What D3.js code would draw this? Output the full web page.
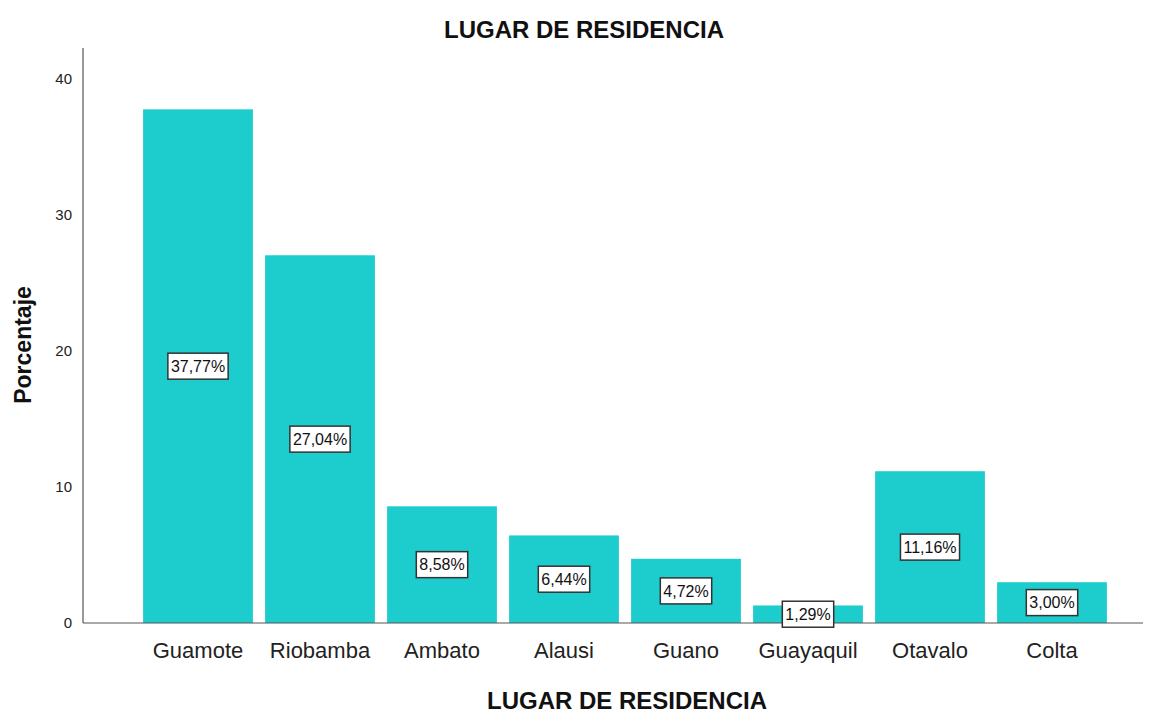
<!DOCTYPE html>
<html lang="en">
<head>
<meta charset="utf-8">
<title>Lugar de residencia</title>
<script src="https://d3js.org/d3.v7.min.js"></script>
<style>
  body { margin: 0; background: #fff; }
  text { font-family: "Liberation Sans", Arial, sans-serif; }
</style>
</head>
<body>
<script>
// data
var lugares = ["Guamote", "Riobamba", "Ambato", "Alausi", "Guano", "Guayaquil", "Otavalo", "Colta"];
var porcentajes = [37.77, 27.04, 8.58, 6.44, 4.72, 1.29, 11.16, 3.00];
var yTicks = [0, 10, 20, 30, 40];

var width = 1158, height = 715;
var svg = d3.select("body").append("svg")
    .attr("width", width)
    .attr("height", height);

var x = d3.scaleBand()
    .domain(lugares)
    .range([137, 1113])
    .paddingInner(0.1)
    .paddingOuter(0.05);

var y = d3.scaleLinear()
    .domain([0, 42.28])
    .range([623, 48]);

// bars
svg.selectAll(".bar")
    .data(lugares)
    .enter().append("rect")
    .attr("class", "bar")
    .attr("x", function(d) { return x(d); })
    .attr("y", function(d, i) { return y(porcentajes[i]); })
    .attr("width", x.bandwidth())
    .attr("height", function(d, i) { return y(0) - y(porcentajes[i]); })
    .attr("fill", "#1dcccc");

// axes
svg.append("line")
    .attr("x1", 83).attr("x2", 83)
    .attr("y1", 48).attr("y2", 623)
    .attr("stroke", "#555").attr("stroke-width", 1.2);
svg.append("line")
    .attr("x1", 83).attr("x2", 1143)
    .attr("y1", 623).attr("y2", 623)
    .attr("stroke", "#555").attr("stroke-width", 1.2);

svg.selectAll(".ytick")
    .data(yTicks)
    .enter().append("text")
    .attr("class", "ytick")
    .attr("x", 72)
    .attr("y", function(d) { return y(d); })
    .attr("dy", "0.35em")
    .attr("text-anchor", "end")
    .attr("font-size", 15)
    .attr("fill", "#222")
    .text(function(d) { return d; });

svg.selectAll(".xlab")
    .data(lugares)
    .enter().append("text")
    .attr("class", "xlab")
    .attr("x", function(d) { return x(d) + x.bandwidth() / 2; })
    .attr("y", 658)
    .attr("text-anchor", "middle")
    .attr("font-size", 22)
    .attr("fill", "#222")
    .text(function(d) { return d; });

// value labels in boxes
var fmt = function(v) { return v.toFixed(2).replace(".", ",") + "%"; };
var lab = svg.selectAll(".lab")
    .data(lugares)
    .enter().append("g")
    .attr("class", "lab")
    .attr("transform", function(d, i) {
        return "translate(" + (x(d) + x.bandwidth() / 2) + "," + y(porcentajes[i] / 2) + ")";
    });

lab.append("text")
    .attr("text-anchor", "middle")
    .attr("dy", "0.36em")
    .attr("font-size", 16)
    .attr("fill", "#111")
    .text(function(d, i) { return fmt(porcentajes[i]); })
    .each(function() {
        var bb = this.getBBox();
        d3.select(this.parentNode).insert("rect", "text")
            .attr("x", bb.x - 3)
            .attr("y", -13)
            .attr("width", bb.width + 6)
            .attr("height", 26)
            .attr("fill", "#fff")
            .attr("stroke", "#333")
            .attr("stroke-width", 1.5);
    });

// titles
svg.append("text")
    .attr("x", 584).attr("y", 38)
    .attr("text-anchor", "middle")
    .attr("font-size", 24)
    .attr("font-weight", "bold")
    .attr("fill", "#111")
    .text("LUGAR DE RESIDENCIA");

svg.append("text")
    .attr("x", 627).attr("y", 709)
    .attr("text-anchor", "middle")
    .attr("font-size", 24)
    .attr("font-weight", "bold")
    .attr("fill", "#111")
    .text("LUGAR DE RESIDENCIA");

svg.append("text")
    .attr("transform", "translate(31,345) rotate(-90)")
    .attr("text-anchor", "middle")
    .attr("font-size", 23)
    .attr("font-weight", "bold")
    .attr("fill", "#111")
    .text("Porcentaje");
</script>
</body>
</html>
